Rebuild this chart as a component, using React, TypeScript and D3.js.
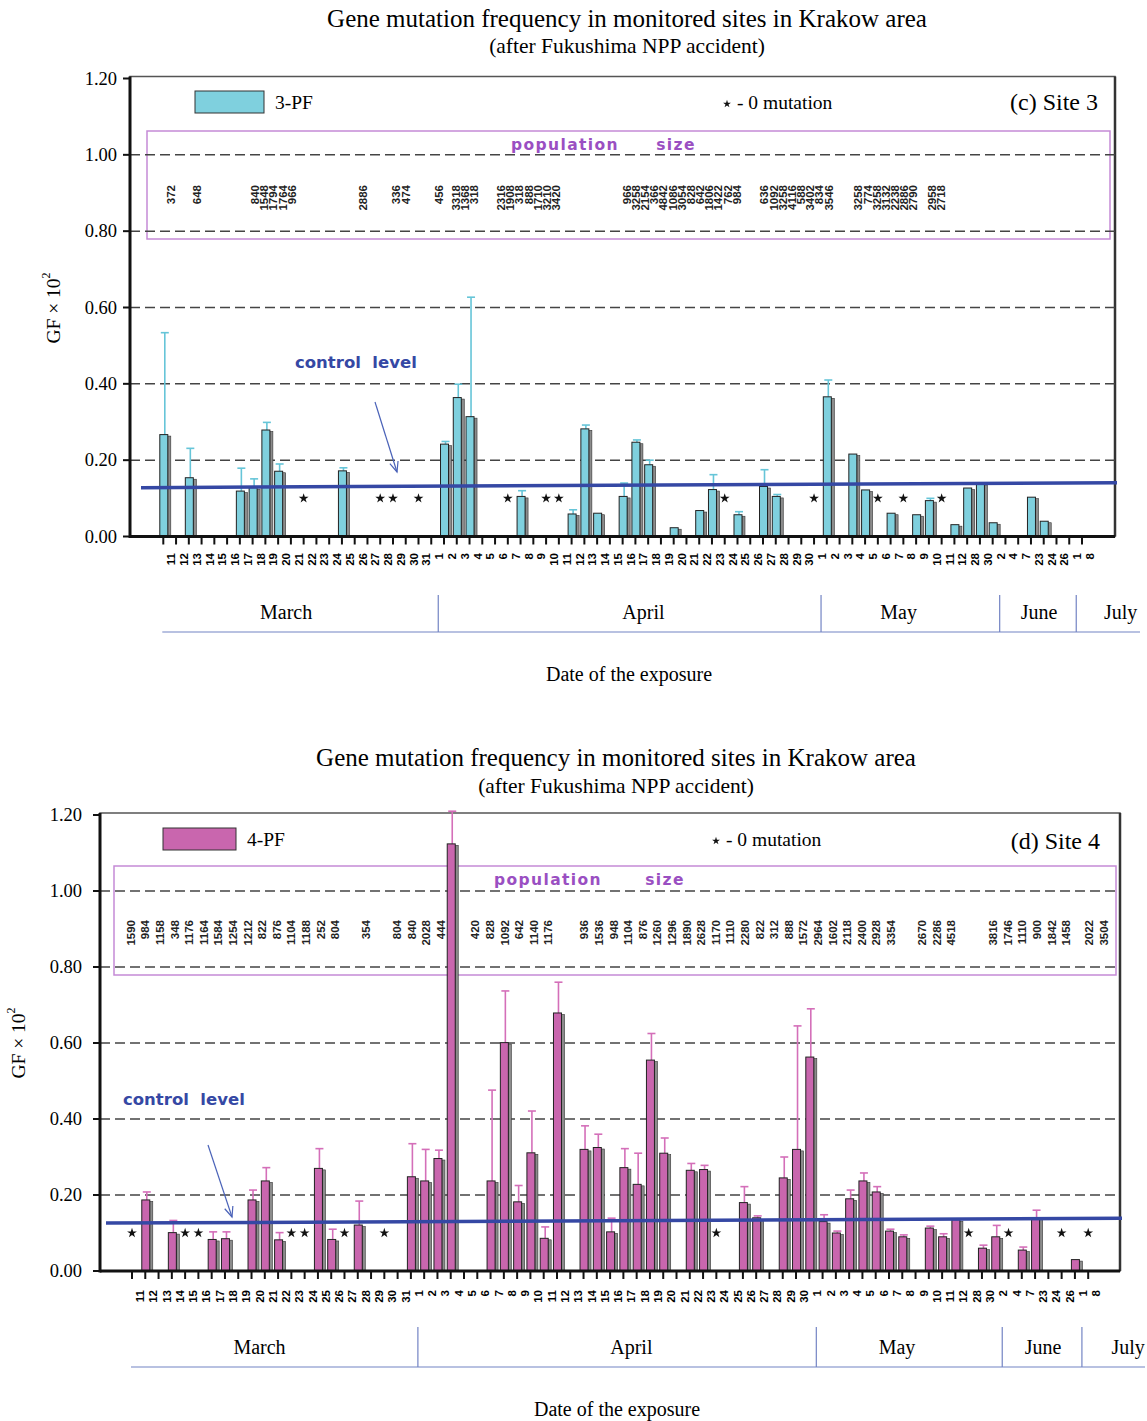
import React from 'react'
import * as d3 from 'd3'

// x categories: exposure dates (month-day)
const marchDays = [11, 12, 13, 14, 15, 16, 17, 18, 19, 20, 21, 22, 23, 24, 25, 26, 27, 28, 29, 30, 31]
const aprilDays = [1, 2, 3, 4, 5, 6, 7, 8, 9, 10, 11, 12, 13, 14, 15, 16, 17, 18, 19, 20, 21, 22, 23, 24, 25, 26, 27, 28, 29, 30]
const mayDays = [1, 2, 3, 4, 5, 6, 7, 8, 9, 10, 11, 12, 28, 30]
const juneDays = [2, 4, 7, 23, 24, 26]
const julyDays = [1, 8]

const months = [
  { name: 'March', m: 3, days: marchDays, labelAt: '3-20' },
  { name: 'April', m: 4, days: aprilDays, labelAt: '4-17' },
  { name: 'May', m: 5, days: mayDays, labelAt: '5-7' },
  { name: 'June', m: 6, days: juneDays, labelAt: '6-23' },
  { name: 'July', m: 7, days: julyDays, labelAt: '7-8' },
]
const categories = months.flatMap((mo) => mo.days.map((d) => `${mo.m}-${d}`))

const yTicks = [0, 0.2, 0.4, 0.6, 0.8, 1.0, 1.2]
const gridValues = [0.2, 0.4, 0.6, 0.8, 1.0]

// Site 3 (3-PF)
const site3Dates = ['3-11', '3-13', '3-17', '3-18', '3-19', '3-20', '3-25', '4-2', '4-3', '4-4', '4-8', '4-12', '4-13', '4-14', '4-16', '4-17', '4-18', '4-20', '4-22', '4-23', '4-25', '4-27', '4-28', '5-2', '5-4', '5-5', '5-7', '5-9', '5-10', '5-12', '5-28', '5-30', '6-2', '6-23', '6-24']
const site3GF = [0.267, 0.154, 0.119, 0.128, 0.279, 0.171, 0.172, 0.242, 0.364, 0.314, 0.105, 0.059, 0.282, 0.061, 0.105, 0.247, 0.188, 0.023, 0.068, 0.123, 0.057, 0.131, 0.105, 0.366, 0.216, 0.122, 0.061, 0.057, 0.094, 0.031, 0.127, 0.139, 0.036, 0.103, 0.04]
const site3Upper = [0.534, 0.231, 0.179, 0.151, 0.299, 0.19, 0.18, 0.249, 0.399, 0.627, 0.12, 0.07, 0.292, 0.061, 0.14, 0.253, 0.2, 0.023, 0.068, 0.162, 0.065, 0.175, 0.11, 0.41, 0.216, 0.122, 0.061, 0.057, 0.1, 0.031, 0.127, 0.14, 0.036, 0.103, 0.04]
const site3Zero = ['3-22', '3-28', '3-29', '3-31', '4-7', '4-10', '4-11', '4-24', '5-1', '5-6', '5-8', '5-11']
const site3Control = [0.128, 0.141]
const site3Pop = [
  { at: '3-11', counts: [372] },
  { at: '3-13', counts: [648] },
  { at: '3-19', counts: [840, 1548, 1794, 1764, 966] },
  { at: '3-26', counts: [2886] },
  { at: '3-29', counts: [336, 474] },
  { at: '4-1', counts: [456] },
  { at: '4-3', counts: [3318, 1368, 318] },
  { at: '4-8', counts: [2316, 1908, 318, 888, 1710, 3210, 3420] },
  { at: '4-20', counts: [966, 3258, 2154, 366, 4842, 1086, 3054, 828, 642, 1806, 1422, 762, 984] },
  { at: '4-29', counts: [636, 1092, 3258, 4116, 588, 3402, 834, 3546] },
  { at: '5-6', counts: [3258, 774, 3258, 3132, 2238, 2886, 2790] },
  { at: '5-10', counts: [2958, 2718] },
]

// Site 4 (4-PF)
const site4Dates = ['3-12', '3-14', '3-17', '3-18', '3-20', '3-21', '3-22', '3-25', '3-26', '3-28', '4-1', '4-2', '4-3', '4-4', '4-7', '4-8', '4-9', '4-10', '4-11', '4-12', '4-14', '4-15', '4-16', '4-17', '4-18', '4-19', '4-20', '4-22', '4-23', '4-26', '4-27', '4-29', '4-30', '5-1', '5-2', '5-3', '5-4', '5-5', '5-6', '5-7', '5-8', '5-10', '5-11', '5-12', '5-30', '6-2', '6-7', '6-23', '7-1']
const site4GF = [0.187, 0.101, 0.083, 0.085, 0.187, 0.237, 0.082, 0.27, 0.083, 0.121, 0.248, 0.237, 0.296, 1.124, 0.237, 0.601, 0.182, 0.311, 0.086, 0.679, 0.32, 0.325, 0.103, 0.272, 0.228, 0.555, 0.31, 0.265, 0.267, 0.18, 0.14, 0.245, 0.32, 0.563, 0.13, 0.1, 0.19, 0.237, 0.208, 0.105, 0.09, 0.113, 0.09, 0.135, 0.06, 0.09, 0.055, 0.14, 0.03]
const site4Upper = [0.208, 0.133, 0.103, 0.103, 0.213, 0.272, 0.101, 0.322, 0.11, 0.184, 0.335, 0.32, 0.318, 1.21, 0.476, 0.737, 0.225, 0.421, 0.116, 0.76, 0.382, 0.36, 0.139, 0.322, 0.31, 0.625, 0.35, 0.283, 0.278, 0.222, 0.145, 0.3, 0.645, 0.69, 0.148, 0.105, 0.213, 0.258, 0.222, 0.11, 0.095, 0.118, 0.098, 0.135, 0.068, 0.12, 0.063, 0.16, 0.03]
const site4Zero = ['3-11', '3-15', '3-16', '3-23', '3-24', '3-27', '3-30', '4-24', '5-28', '6-4', '6-26', '7-8']
const site4Control = [0.126, 0.139]
const site4Pop = [
  { at: '3-18', counts: [1590, 984, 1158, 348, 1176, 1164, 1584, 1254, 1212, 822, 876, 1104, 1188, 252, 804] },
  { at: '3-28', counts: [354] },
  { at: '4-1', counts: [804, 840, 2028, 444] },
  { at: '4-8', counts: [420, 828, 1092, 642, 1140, 1176] },
  { at: '4-25', counts: [936, 1536, 948, 1104, 876, 1260, 1296, 1890, 2628, 1170, 1110, 2280, 822, 312, 888, 1572, 2964, 1602, 2118, 2400, 2928, 3354] },
  { at: '5-10', counts: [2670, 2286, 4518] },
  { at: '6-7', counts: [3816, 1746, 1110, 900, 1842, 1458] },
  { at: '7-8', counts: [2022, 3504] },
]

const serif = "'Liberation Serif', 'Times New Roman', serif"
const sans = "'Liberation Sans', Arial, sans-serif"
const wide = "'DejaVu Sans', Verdana, sans-serif"
const blue = '#3548a4'
const purple = '#9a4fc2'

const charts = [
  {
    name: '3-PF', site: '(c) Site 3', fill: '#7fd0de', err: '#66c5d8',
    dates: site3Dates, gf: site3GF, upper: site3Upper, zero: site3Zero, control: site3Control, pop: site3Pop,
    titleX: 627, titleY: 18, subY: 46,
    xRange: [163.3, 1082], yRange: [536.5, 78.5], left: 130, right: 1115,
    tickLabelX: 117, yTitleX: 53, yTitleY: 308,
    popBox: [147, 131, 1110, 239], popTitleY: 145, popWord: 565, sizeWord: 676, popY: 185, popStep: 9.17,
    legend: [195, 91, 69, 22], starLegend: [727, 104], siteX: 1098, siteY: 102,
    ctrlText: [295, 362], arrow: [375, 402, 397, 472], ctrlX: [141, 1117],
    labelY: 553, divTop: 595, bracketY: 632, monthY: 612, footerX: 629, footerY: 674,
  },
  {
    name: '4-PF', site: '(d) Site 4', fill: '#c966ae', err: '#d46fb9',
    dates: site4Dates, gf: site4GF, upper: site4Upper, zero: site4Zero, control: site4Control, pop: site4Pop,
    titleX: 616, titleY: 757, subY: 786,
    xRange: [132, 1088.2], yRange: [1271, 815], left: 100, right: 1120,
    tickLabelX: 82, yTitleX: 18, yTitleY: 1043,
    popBox: [114, 866, 1116, 975], popTitleY: 880, popWord: 548, sizeWord: 665, popY: 920, popStep: 14.6,
    legend: [163, 828, 73, 22], starLegend: [716, 841], siteX: 1100, siteY: 841,
    ctrlText: [123, 1099], arrow: [208, 1145, 232, 1217], ctrlX: [106, 1122],
    labelY: 1290, divTop: 1327, bracketY: 1367, monthY: 1347, footerX: 617, footerY: 1409,
  },
]

const starPath = d3.symbol(d3.symbolStar, 30)() as string

function SiteChart({ c }: { c: any }) {
  const x = d3.scalePoint<string>().domain(categories).range(c.xRange)
  const y = d3.scaleLinear().domain([0, 1.2]).range(c.yRange)
  const step = x.step()
  const xl = (k: string) => (x(k) as number) + 8
  const y0 = y(0)
  const frameTop = y(1.2) - 2
  const ctrl = d3.line<number>()
    .x((_, i) => c.ctrlX[i])
    .y((v) => y(v))
  const [ax1, ay1, ax2, ay2] = c.arrow
  const ang = Math.atan2(ay2 - ay1, ax2 - ax1)
  const head = [ang + Math.PI - 0.4, ang + Math.PI + 0.4].map((a) => [ax2 + 11 * Math.cos(a), ay2 + 11 * Math.sin(a)])
  const bracketL = x(categories[0]) as number - 1
  const bracketR = c.right + 25

  return (
    <g>
      <text x={c.titleX} y={c.titleY} textAnchor="middle" dominantBaseline="central" fontFamily={serif} fontSize={25}>
        Gene mutation frequency in monitored sites in Krakow area
      </text>
      <text x={c.titleX} y={c.subY} textAnchor="middle" dominantBaseline="central" fontFamily={serif} fontSize={21.5}>
        (after Fukushima NPP accident)
      </text>

      {/* frame */}
      <rect x={c.left} y={frameTop} width={c.right - c.left} height={y0 - frameTop} fill="none" stroke="#555" strokeWidth={1.5} />
      <line x1={c.right} x2={c.right} y1={frameTop} y2={y0} stroke="#333" strokeWidth={2.5} />

      {/* population size box */}
      <rect x={c.popBox[0]} y={c.popBox[1]} width={c.popBox[2] - c.popBox[0]} height={c.popBox[3] - c.popBox[1]}
        fill="none" stroke="#c58ad6" strokeWidth={1.5} />
      <text x={c.popWord} y={c.popTitleY} textAnchor="middle" dominantBaseline="central" fontFamily={wide}
        fontWeight="bold" fontSize={15.5} letterSpacing={1.4} fill={purple}>population</text>
      <text x={c.sizeWord} y={c.popTitleY} textAnchor="middle" dominantBaseline="central" fontFamily={wide}
        fontWeight="bold" fontSize={15.5} letterSpacing={1.4} fill={purple}>size</text>

      {/* grid */}
      {gridValues.map((v) => (
        <line key={v} x1={c.left} x2={c.right} y1={y(v)} y2={y(v)} stroke="#444" strokeWidth={1.5} strokeDasharray="10 5" />
      ))}

      {c.pop.map((g: any, gi: number) =>
        g.counts.map((n: number, j: number) => {
          const px = xl(g.at) + (j - (g.counts.length - 1) / 2) * c.popStep
          return (
            <text key={gi + '-' + j} transform={`translate(${px},${c.popY}) rotate(-90)`} textAnchor="end"
              dominantBaseline="central" fontFamily={sans} fontWeight="bold" fontSize={11.5} fill="#222">{n}</text>
          )
        })
      )}

      {/* y axis */}
      {yTicks.map((v) => (
        <g key={v}>
          <line x1={c.left - 7} x2={c.left} y1={y(v)} y2={y(v)} stroke="#111" strokeWidth={2} />
          <text x={c.tickLabelX} y={y(v)} textAnchor="end" dominantBaseline="central" fontFamily={serif} fontSize={18.5}>
            {v.toFixed(2)}
          </text>
        </g>
      ))}
      <text transform={`translate(${c.yTitleX},${c.yTitleY}) rotate(-90)`} textAnchor="middle" dominantBaseline="central"
        fontFamily={serif} fontSize={19.5}>
        GF × 10<tspan dy={-7} fontSize={12}>2</tspan>
      </text>

      {/* error bars */}
      {c.dates.map((d: string, i: number) => {
        if (c.upper[i] <= c.gf[i] + 0.002) return null
        const cx = (x(d) as number) + 1.5
        return (
          <g key={'e' + d} stroke={c.err} strokeWidth={1.6}>
            <line x1={cx} x2={cx} y1={y(c.gf[i])} y2={y(c.upper[i])} />
            <line x1={cx - 4} x2={cx + 4} y1={y(c.upper[i])} y2={y(c.upper[i])} />
          </g>
        )
      })}

      {/* bars */}
      {c.dates.map((d: string, i: number) => {
        const cx = x(d) as number
        const top = y(c.gf[i])
        return (
          <g key={'b' + d}>
            <rect x={cx + 4.5} y={top + 1.5} width={3} height={Math.max(0, y0 - top - 1.5)} fill="#8c8c8c" stroke="#333" strokeWidth={0.6} />
            <rect x={cx - 3.5} y={top} width={8} height={y0 - top} fill={c.fill} stroke="#222" strokeWidth={1} />
          </g>
        )
      })}

      {/* zero-mutation stars */}
      {c.zero.map((d: string) => (
        <path key={'s' + d} d={starPath} transform={`translate(${x(d)},${y(0.1)})`} fill="#111" />
      ))}

      {/* control level */}
      <path d={ctrl(c.control) as string} fill="none" stroke={blue} strokeWidth={3.5} />
      <text x={c.ctrlText[0]} y={c.ctrlText[1]} dominantBaseline="central" fontFamily={wide} fontWeight="bold"
        fontSize={16.5} fill={blue} xmlSpace="preserve">control  level</text>
      <line x1={ax1} y1={ay1} x2={ax2} y2={ay2} stroke="#4a62b8" strokeWidth={1.2} />
      <polyline points={`${head[0][0]},${head[0][1]} ${ax2},${ay2} ${head[1][0]},${head[1][1]}`} fill="none" stroke="#4a62b8" strokeWidth={1.2} />

      {/* x axis */}
      <line x1={c.left} x2={c.right} y1={y0} y2={y0} stroke="#111" strokeWidth={3} />
      <line x1={c.left} x2={c.left} y1={frameTop} y2={y0 + 1.5} stroke="#111" strokeWidth={3} />
      {categories.map((k) => (
        <line key={'t' + k} x1={x(k)} x2={x(k)} y1={y0} y2={y0 + 8} stroke="#111" strokeWidth={2} />
      ))}
      {categories.map((k) => (
        <text key={'l' + k} transform={`translate(${xl(k)},${c.labelY}) rotate(-90)`} textAnchor="end"
          dominantBaseline="central" fontFamily={sans} fontWeight="bold" fontSize={11.5}>
          {k.split('-')[1]}
        </text>
      ))}

      {/* legend */}
      <rect x={c.legend[0]} y={c.legend[1]} width={c.legend[2]} height={c.legend[3]} fill={c.fill} stroke="#333" strokeWidth={1} />
      <text x={c.legend[0] + c.legend[2] + 11} y={c.legend[1] + c.legend[3] / 2} dominantBaseline="central" fontFamily={serif} fontSize={19.5}>
        {c.name}
      </text>
      <path d={starPath} transform={`translate(${c.starLegend[0]},${c.starLegend[1]}) scale(0.8)`} fill="#111" />
      <text x={c.starLegend[0] + 10} y={c.starLegend[1] - 2} dominantBaseline="central" fontFamily={serif} fontSize={19.5}>
        - 0 mutation
      </text>
      <text x={c.siteX} y={c.siteY} textAnchor="end" dominantBaseline="central" fontFamily={serif} fontSize={24}>
        {c.site}
      </text>

      {/* months */}
      <line x1={bracketL} x2={bracketR} y1={c.bracketY} y2={c.bracketY} stroke="#7384c4" strokeWidth={1.2} />
      {months.slice(1).map((mo) => {
        const dx = xl(`${mo.m}-${mo.days[0]}`) - 1
        return <line key={'d' + mo.name} x1={dx} x2={dx} y1={c.divTop} y2={c.bracketY} stroke="#7384c4" strokeWidth={1.2} />
      })}
      {months.map((mo, i) => (
        <text key={'m' + mo.name} x={xl(mo.labelAt) + (i === months.length - 1 ? step * 2.4 : 0)} y={c.monthY}
          textAnchor="middle" dominantBaseline="central" fontFamily={serif} fontSize={20}>
          {mo.name}
        </text>
      ))}
      <text x={c.footerX} y={c.footerY} textAnchor="middle" dominantBaseline="central" fontFamily={serif} fontSize={20}>
        Date of the exposure
      </text>
    </g>
  )
}

export default function App() {
  return (
    <svg width={1147} height={1421} style={{ position: 'absolute', left: 0, top: 0, background: '#fff' }}>
      <rect width={1147} height={1421} fill="#fff" />
      {charts.map((c) => (
        <SiteChart key={c.name} c={c} />
      ))}
    </svg>
  )
}
